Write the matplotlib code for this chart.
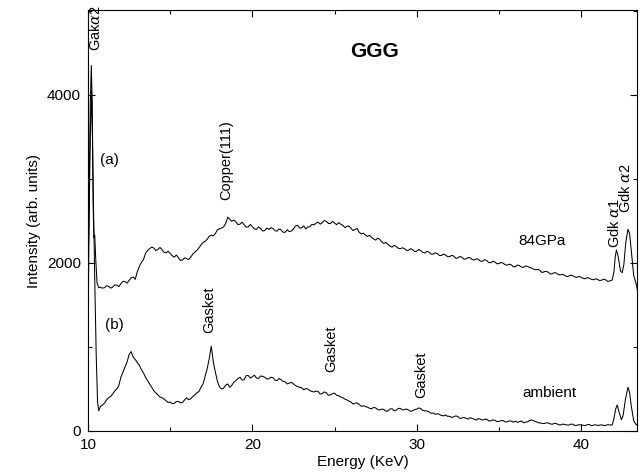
import numpy as np
import matplotlib
matplotlib.use("Agg")
import matplotlib.pyplot as plt
from matplotlib.ticker import MultipleLocator

plt.rcParams['font.family'] = ['Liberation Sans', 'DejaVu Sans']
plt.rcParams['mathtext.fontset'] = 'custom'
plt.rcParams['mathtext.it'] = 'DejaVu Serif:italic'

# ---------------- data ----------------
# uniformly spaced channel energies (keV) for the smooth part of both spectra
channel_start = 11.0
channel_step = 0.25
mid_offset = 0.125   # second set of channels, half-way between the first

# (a) 84 GPa spectrum
head_energy_a = [10.02, 10.08, 10.14, 10.20, 10.26, 10.31, 10.36, 10.41, 10.47, 10.55, 10.65, 10.75, 10.87]
head_int_a = [1950, 2900, 3900, 4350, 3900, 2700, 2300, 2330, 2050, 1760, 1705, 1712, 1700]
grid_int_a = [
    1705, 1722, 1712, 1735,   # 11
    1752, 1778, 1790, 1832,   # 12
    1895, 2005, 2115, 2170,   # 13
    2178, 2160, 2158, 2120,   # 14
    2112, 2070, 2062, 2035,   # 15
    2052, 2070, 2128, 2180,   # 16
    2245, 2280, 2330, 2350,   # 17
    2405, 2430, 2545, 2495,   # 18
    2490, 2462, 2455, 2430,   # 19
    2432, 2400, 2410, 2385,   # 20
    2398, 2410, 2378, 2392,   # 21
    2365, 2372, 2405, 2448,   # 22
    2418, 2405, 2428, 2452,   # 23
    2485, 2478, 2495, 2468,   # 24
    2475, 2480, 2448, 2435,   # 25
    2412, 2398, 2365, 2355,   # 26
    2315, 2305, 2272, 2280,   # 27
    2232, 2220, 2188, 2195,   # 28
    2168, 2172, 2150, 2158,   # 29
    2140, 2145, 2118, 2128,   # 30
    2105, 2112, 2088, 2095,   # 31
    2075, 2082, 2060, 2068,   # 32
    2048, 2062, 2035, 2042,   # 33
    2020, 2030, 2002, 2012,   # 34
    1992, 1998, 1972, 1978,   # 35
    1955, 1968, 1948, 1958,   # 36
    1938, 1918, 1910, 1895,   # 37
    1890, 1872, 1878, 1858,   # 38
    1852, 1845, 1848, 1828,   # 39
    1830, 1812, 1818, 1800,   # 40
    1805, 1795, 1798, 1785,   # 41
]
mid_int_a = [
    1728, 1700, 1738, 1718,   # 11
    1780, 1760, 1822, 1805,   # 12
    1960, 2040, 2150, 2190,   # 13
    2148, 2185, 2128, 2140,   # 14
    2085, 2095, 2030, 2060,   # 15
    2040, 2105, 2150, 2215,   # 16
    2258, 2318, 2322, 2395,   # 17
    2415, 2470, 2520, 2510,   # 18
    2455, 2485, 2425, 2458,   # 19
    2405, 2428, 2380, 2415,   # 20
    2420, 2385, 2405, 2365,   # 21
    2395, 2380, 2440, 2415,   # 22
    2440, 2430, 2460, 2475,   # 23
    2462, 2505, 2470, 2495,   # 24
    2455, 2460, 2420, 2440,   # 25
    2385, 2410, 2345, 2330,   # 26
    2330, 2285, 2295, 2250,   # 27
    2245, 2200, 2210, 2175,   # 28
    2180, 2150, 2170, 2135,   # 29
    2160, 2125, 2140, 2105,   # 30
    2120, 2090, 2105, 2075,   # 31
    2090, 2055, 2078, 2045,   # 32
    2065, 2040, 2050, 2020,   # 33
    2038, 2005, 2020, 1990,   # 34
    2005, 1980, 1985, 1955,   # 35
    1975, 1950, 1965, 1945,   # 36
    1925, 1925, 1885, 1900,   # 37
    1868, 1885, 1860, 1865,   # 38
    1838, 1855, 1832, 1840,   # 39
    1815, 1825, 1805, 1810,   # 40
    1790, 1808, 1780, 1795,   # 41
]
tail_energy_a = [41.90, 42.00, 42.08, 42.15, 42.25, 42.40, 42.50, 42.60, 42.72, 42.85, 42.95, 43.05, 43.20, 43.35, 43.45]
tail_int_a = [1800, 1900, 2080, 2155, 2080, 1900, 1885, 1980, 2250, 2400, 2350, 2150, 1850, 1750, 1650]

# (b) ambient spectrum
head_energy_b = [10.00, 10.05, 10.12, 10.20, 10.27, 10.34, 10.42, 10.50, 10.58, 10.65, 10.75, 10.87]
head_int_b = [1000, 2200, 3300, 4050, 3500, 2600, 1700, 900, 350, 240, 290, 310]
grid_int_b = [
    330, 395, 440, 500,       # 11
    640, 760, 910, 880,       # 12
    815, 730, 640, 560,       # 13
    480, 430, 395, 360,       # 14
    345, 330, 352, 340,       # 15
    395, 385, 430, 470,       # 16
    560, 740, 1010, 700,      # 17
    525, 510, 560, 545,       # 18
    600, 640, 610, 660,       # 19
    645, 630, 655, 640,       # 20
    620, 635, 600, 610,       # 21
    585, 570, 560, 530,       # 22
    515, 505, 480, 465,       # 23
    470, 445, 455, 430,       # 24
    450, 420, 395, 370,       # 25
    345, 330, 315, 300,       # 26
    285, 265, 275, 250,       # 27
    255, 240, 265, 248,       # 28
    270, 255, 250, 240,       # 29
    260, 265, 240, 228,       # 30
    215, 205, 185, 190,       # 31
    175, 168, 172, 155,       # 32
    150, 158, 140, 148,       # 33
    130, 142, 120, 128,       # 34
    115, 125, 108, 118,       # 35
    118, 112, 98, 110,        # 36
    132, 112, 95, 88,         # 37
    95, 80, 88, 72,           # 38
    78, 70, 80, 68,           # 39
    72, 65, 78, 70,           # 40
    66, 74, 68, 72,           # 41
]
mid_int_b = [
    370, 410, 475, 540,       # 11
    700, 820, 945, 850,       # 12
    780, 690, 600, 520,       # 13
    455, 405, 380, 340,       # 14
    325, 350, 335, 370,       # 15
    372, 410, 455, 520,       # 16
    650, 860, 820, 590,       # 17
    500, 545, 520, 580,       # 18
    625, 605, 660, 630,       # 19
    665, 625, 650, 620,       # 20
    640, 605, 625, 590,       # 21
    560, 580, 540, 520,       # 22
    490, 500, 470, 475,       # 23
    440, 465, 425, 445,       # 24
    425, 405, 380, 355,       # 25
    320, 335, 295, 290,       # 26
    270, 280, 255, 262,       # 27
    235, 262, 240, 268,       # 28
    250, 262, 235, 255,       # 29
    275, 245, 238, 210,       # 30
    200, 198, 180, 175,       # 31
    162, 180, 150, 162,       # 32
    142, 150, 130, 140,       # 33
    138, 120, 132, 112,       # 34
    122, 108, 120, 105,       # 35
    102, 120, 105, 125,       # 36
    120, 100, 92, 98,         # 37
    85, 92, 75, 82,           # 38
    72, 82, 65, 75,           # 39
    68, 75, 62, 74,           # 40
    70, 65, 75, 70,           # 41
]
tail_energy_b = [41.90, 42.00, 42.10, 42.20, 42.30, 42.45, 42.55, 42.70, 42.85, 42.95, 43.05, 43.20, 43.35, 43.45]
tail_int_b = [75, 150, 260, 310, 230, 135, 180, 380, 520, 460, 300, 120, 75, 60]

x_ticks = [10, 20, 30, 40]
y_ticks = [0, 2000, 4000]


# ---------------- build series ----------------
def build(head_e, head_i, grid_i, mid_i, tail_e, tail_i):
    ge = channel_start + channel_step * np.arange(len(grid_i))
    me = ge + mid_offset
    e = np.concatenate([head_e, ge, me, tail_e])
    i = np.concatenate([head_i, grid_i, mid_i, tail_i])
    order = np.argsort(e, kind='stable')
    return e[order], i[order]


energy_a, int_a = build(head_energy_a, head_int_a, grid_int_a, mid_int_a, tail_energy_a, tail_int_a)
energy_b, int_b = build(head_energy_b, head_int_b, grid_int_b, mid_int_b, tail_energy_b, tail_int_b)

# ---------------- figure ----------------
fig = plt.figure(figsize=(6.42, 4.75), dpi=100)
ax = fig.add_axes([88/642, 1-431/475, (637-88)/642, (431-10)/475])

ax.plot(energy_a, int_a, color='black', lw=0.75)
ax.plot(energy_b, int_b, color='black', lw=0.75)

ax.set_xlim(10, 43.4)
ax.set_ylim(0, 5010)
ax.set_xticks(x_ticks)
ax.set_yticks(y_ticks)
ax.xaxis.set_minor_locator(MultipleLocator(5))
ax.yaxis.set_minor_locator(MultipleLocator(1000))
ax.tick_params(which='both', direction='in', top=True, right=True, labelsize=11, width=0.8)
ax.tick_params(which='major', length=5, pad=5)
ax.tick_params(which='minor', length=3)
for sp in ax.spines.values():
    sp.set_linewidth(0.8)

ax.set_xlabel('Energy (KeV)', fontsize=11, labelpad=2)
ax.set_ylabel('Intensity (arb. units)', fontsize=11, labelpad=4)

fs = 10.5
ax.text(27.45, 4515, 'GGG', fontsize=15, fontweight='bold', ha='center', va='center')
ax.text(10.45, 4520, r'Gak$\alpha$2', rotation=90, fontsize=fs, ha='center', va='bottom')
ax.text(11.3, 3230, '(a)', fontsize=11, ha='center', va='center')
ax.text(18.4, 2750, 'Copper(111)', rotation=90, fontsize=fs, ha='center', va='bottom')
ax.text(37.6, 2262, '84GPa', fontsize=11, ha='center', va='center')
ax.text(42.05, 2180, r'Gdk $\alpha$1', rotation=90, fontsize=fs, ha='center', va='bottom')
ax.text(42.68, 2600, r'Gdk $\alpha$2', rotation=90, fontsize=fs, ha='center', va='bottom')
ax.text(11.6, 1262, '(b)', fontsize=11, ha='center', va='center')
ax.text(17.4, 1170, 'Gasket', rotation=90, fontsize=fs, ha='center', va='bottom')
ax.text(24.8, 700, 'Gasket', rotation=90, fontsize=fs, ha='center', va='bottom')
ax.text(30.3, 395, 'Gasket', rotation=90, fontsize=fs, ha='center', va='bottom')
ax.text(38.1, 452, 'ambient', fontsize=11, ha='center', va='center')

fig.savefig('out.png', dpi=100)
